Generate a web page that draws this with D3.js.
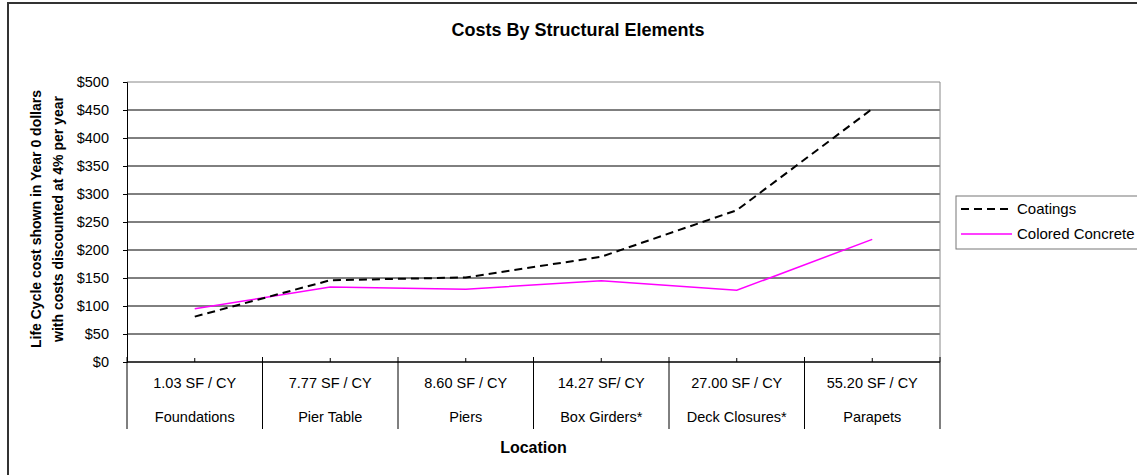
<!DOCTYPE html>
<html>
<head>
<meta charset="utf-8">
<title>Costs By Structural Elements</title>
<style>
	body { margin: 0; background: #fff; }
	svg { display: block; font-family: Arial, "Liberation Sans", sans-serif; }
</style>
</head>
<body>
<script src="https://d3js.org/d3.v7.min.js"></script>
<script>

// data
var locations = ["Foundations", "Pier Table", "Piers", "Box Girders*", "Deck Closures*", "Parapets"];
var ratios = ["1.03 SF / CY", "7.77 SF / CY", "8.60 SF / CY", "14.27 SF/ CY", "27.00 SF / CY", "55.20 SF / CY"];
var coatings = [81, 146, 151, 188, 271, 452];
var coloredConcrete = [95, 134, 130, 145, 128, 219];
var yTicks = [0, 50, 100, 150, 200, 250, 300, 350, 400, 450, 500];

var width = 1137, height = 475;
var plot = { left: 127, top: 82, right: 940, bottom: 362 };

var svg = d3.select("body").append("svg")
	.attr("width", width)
	.attr("height", height);

// chart frame
svg.append("rect")
	.attr("x", 8).attr("y", 3)
	.attr("width", width + 20).attr("height", height + 20)
	.attr("fill", "#fff")
	.attr("stroke", "#333")
	.attr("stroke-width", 2);

var x = d3.scaleBand().domain(locations).range([plot.left, plot.right]);
var y = d3.scaleLinear().domain([0, 500]).range([plot.bottom, plot.top]);

// gridlines
svg.append("g")
	.selectAll("line")
	.data(yTicks.filter(function(d) { return d < 500; }))
	.join("line")
		.attr("x1", plot.left).attr("x2", plot.right)
		.attr("y1", function(d) { return y(d); })
		.attr("y2", function(d) { return y(d); })
		.attr("stroke", "#000")
		.attr("stroke-width", 1);

// plot area border (top + right, grey)
svg.append("path")
	.attr("d", "M" + plot.left + "," + y(500) + "H" + plot.right + "V" + plot.bottom)
	.attr("fill", "none")
	.attr("stroke", "#888")
	.attr("stroke-width", 1);

// y axis
var yAxis = svg.append("g")
	.attr("transform", "translate(" + plot.left + ",0)")
	.call(d3.axisLeft(y).tickValues(yTicks).tickFormat(function(d) { return "$" + d; }).tickSize(4).tickPadding(14));
yAxis.select(".domain").attr("stroke", "#000");
yAxis.selectAll("text").attr("font-size", "14.5px").attr("fill", "#000").attr("font-family", "Arial, 'Liberation Sans', sans-serif");

// x axis line
svg.append("line")
	.attr("x1", plot.left).attr("x2", plot.right)
	.attr("y1", plot.bottom).attr("y2", plot.bottom)
	.attr("stroke", "#000");

// small ticks at category centres
svg.append("g")
	.selectAll("line")
	.data(locations)
	.join("line")
		.attr("x1", function(d) { return x(d) + x.bandwidth() / 2; })
		.attr("x2", function(d) { return x(d) + x.bandwidth() / 2; })
		.attr("y1", plot.bottom - 4).attr("y2", plot.bottom)
		.attr("stroke", "#000");

// category dividers
var edges = locations.map(function(d) { return x(d); }).concat([plot.right]);
svg.append("g")
	.selectAll("line")
	.data(edges)
	.join("line")
		.attr("x1", function(d) { return d; }).attr("x2", function(d) { return d; })
		.attr("y1", plot.bottom - 5).attr("y2", 429)
		.attr("stroke", "#000");

// category labels, two levels
var cat = svg.append("g")
	.attr("font-size", "14.5px")
	.attr("text-anchor", "middle")
	.attr("fill", "#000");
cat.selectAll("text.ratio")
	.data(locations)
	.join("text")
		.attr("class", "ratio")
		.attr("x", function(d) { return x(d) + x.bandwidth() / 2; })
		.attr("y", 383)
		.attr("dy", "0.35em")
		.text(function(d, i) { return ratios[i]; });
cat.selectAll("text.loc")
	.data(locations)
	.join("text")
		.attr("class", "loc")
		.attr("x", function(d) { return x(d) + x.bandwidth() / 2; })
		.attr("y", 417)
		.attr("dy", "0.35em")
		.text(function(d) { return d; });

// lines
var line = d3.line()
	.x(function(d, i) { return x(locations[i]) + x.bandwidth() / 2; })
	.y(function(d) { return y(d); });

svg.append("path")
	.datum(coloredConcrete)
	.attr("d", line)
	.attr("fill", "none")
	.attr("stroke", "#ff00ff")
	.attr("stroke-width", 1.5);

svg.append("path")
	.datum(coatings)
	.attr("d", line)
	.attr("fill", "none")
	.attr("stroke", "#000")
	.attr("stroke-width", 2)
	.attr("stroke-dasharray", "8,5");

// titles
svg.append("text")
	.attr("x", 578).attr("y", 30)
	.attr("dy", "0.35em")
	.attr("text-anchor", "middle")
	.attr("font-size", "18px")
	.attr("font-weight", "bold")
	.text("Costs By Structural Elements");

svg.append("text")
	.attr("x", (plot.left + plot.right) / 2).attr("y", 447)
	.attr("dy", "0.35em")
	.attr("text-anchor", "middle")
	.attr("font-size", "16px")
	.attr("font-weight", "bold")
	.text("Location");

var yTitle = svg.append("text")
	.attr("transform", "translate(0," + 219 + ") rotate(-90)")
	.attr("text-anchor", "middle")
	.attr("font-size", "14px")
	.attr("font-weight", "bold");
yTitle.append("tspan").attr("x", 0).attr("y", 36).attr("dy", "0.35em")
	.text("Life Cycle cost shown in Year 0 dollars");
yTitle.append("tspan").attr("x", 0).attr("y", 58).attr("dy", "0.35em")
	.text("with costs discounted at 4% per year");

// legend
var legend = svg.append("g");
legend.append("rect")
	.attr("x", 956).attr("y", 196)
	.attr("width", 200).attr("height", 53)
	.attr("fill", "#fff")
	.attr("stroke", "#777");
var series = [
	{ name: "Coatings", color: "#000", width: 2, dash: "8,5", y: 209 },
	{ name: "Colored Concrete", color: "#ff00ff", width: 1.5, dash: null, y: 234 }
];
series.forEach(function(s) {
	legend.append("line")
		.attr("x1", 961).attr("x2", 1012)
		.attr("y1", s.y).attr("y2", s.y)
		.attr("stroke", s.color)
		.attr("stroke-width", s.width)
		.attr("stroke-dasharray", s.dash);
	legend.append("text")
		.attr("x", 1017).attr("y", s.y)
		.attr("dy", "0.35em")
		.attr("font-size", "15px")
		.text(s.name);
});

</script>
</body>
</html>
